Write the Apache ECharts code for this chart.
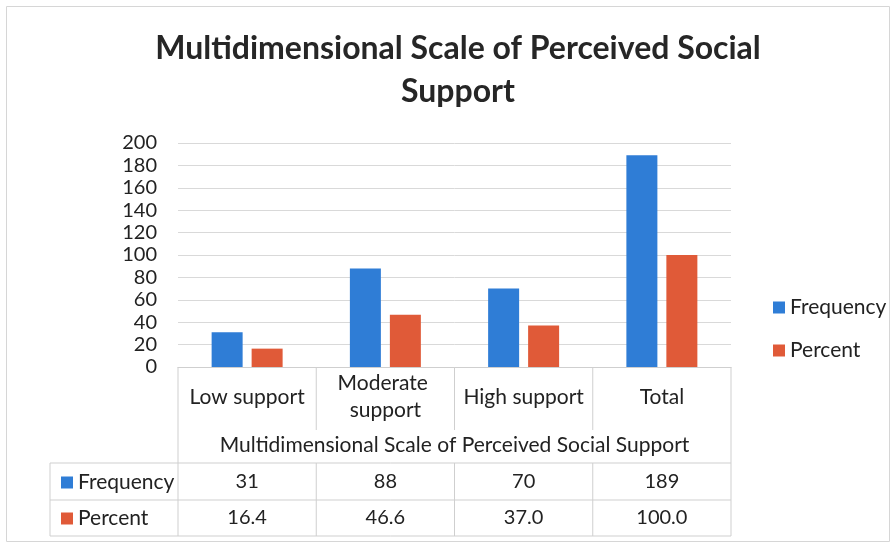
<!DOCTYPE html>
<html>
<head>
<meta charset="utf-8">
<script src="https://cdn.jsdelivr.net/npm/echarts@6/dist/echarts.min.js"></script>
<style>
  html, body { margin: 0; padding: 0; background: #fff; }
  #main { width: 896px; height: 546px; }
</style>
</head>
<body>
<div id="main"></div>
<script>
var categories = ['Low support', 'Moderate support', 'High support', 'Total'];
var frequency = [31, 88, 70, 189];
var percent = [16.4, 46.6, 37.0, 100.0];
var percentText = ['16.4', '46.6', '37.0', '100.0'];
var yTicks = { min: 0, max: 200, interval: 20 };

var BLUE = '#2f7dd6';
var ORANGE = '#e05a38';
var FONT = 'Lato, "Noto Sans", sans-serif';
var TXT = '#222';
var LINE = '#cfcfcf';

// plot box
var GL = 178, GR = 731, GT = 143, GB = 367;
var colW = (GR - GL) / categories.length;

// table lines
var lines = [];
function hline(x1, x2, y) { lines.push({ type: 'line', shape: { x1: x1, y1: y, x2: x2, y2: y }, style: { stroke: LINE, lineWidth: 1 }, silent: true }); }
function vline(x, y1, y2) { lines.push({ type: 'line', shape: { x1: x, y1: y1, x2: x, y2: y2 }, style: { stroke: LINE, lineWidth: 1 }, silent: true }); }
vline(GL, GB, 536);
vline(GR, GB, 536);
for (var i = 1; i < categories.length; i++) {
    vline(GL + i * colW, GB, 430);
    vline(GL + i * colW, 463, 536);
}
hline(50, GR, 463);
hline(50, GR, 500);
hline(50, GR, 536);
vline(50, 463, 536);
lines.push({ type: 'rect', shape: { x: 6.5, y: 6.5, width: 883, height: 535 }, style: { fill: null, stroke: '#d6d6d6', lineWidth: 1 }, silent: true });

var baseLabel = { fontFamily: FONT, fontSize: 21, color: TXT };

var option = {
    backgroundColor: '#fff',
    animation: false,
    title: {
        text: 'Multidimensional Scale of Perceived Social\nSupport',
        left: 453,
        top: 22,
        textAlign: 'center',
        textStyle: { fontFamily: FONT, fontSize: 32, fontWeight: 'bold', color: '#262626', lineHeight: 43 }
    },
    legend: [
        {
            orient: 'vertical',
            left: 768,
            top: 292,
            itemWidth: 12,
            itemHeight: 12,
            itemGap: 22,
            icon: 'rect',
            selectedMode: false,
            textStyle: baseLabel,
            data: ['Frequency', 'Percent']
        },
        {
            orient: 'vertical',
            left: 56,
            top: 467,
            itemWidth: 12,
            itemHeight: 12,
            itemGap: 15,
            icon: 'rect',
            selectedMode: false,
            textStyle: baseLabel,
            data: ['Frequency', 'Percent']
        }
    ],
    grid: { left: GL, right: 896 - GR, top: GT, bottom: 546 - GB, containLabel: false },
    xAxis: [
        {
            type: 'category',
            data: categories,
            name: 'Multidimensional Scale of Perceived Social Support',
            nameLocation: 'middle',
            nameGap: 78,
            nameTextStyle: { fontFamily: FONT, fontSize: 21, color: TXT, verticalAlign: 'middle' },
            axisLine: { show: true, lineStyle: { color: LINE } },
            axisTick: { show: false },
            axisLabel: {
                interval: 0,
                margin: 30,
                verticalAlign: 'middle',
                width: 128,
                overflow: 'break',
                lineHeight: 27,
                fontFamily: FONT, fontSize: 21, color: TXT
            }
        },
        {
            type: 'category',
            data: categories,
            position: 'bottom',
            axisLine: { show: false },
            axisTick: { show: false },
            axisLabel: {
                interval: 0,
                margin: 115,
                verticalAlign: 'middle',
                fontFamily: FONT, fontSize: 20, color: TXT,
                formatter: function (v, idx) { return String(frequency[idx]); }
            }
        },
        {
            type: 'category',
            data: categories,
            position: 'bottom',
            axisLine: { show: false },
            axisTick: { show: false },
            axisLabel: {
                interval: 0,
                margin: 151,
                verticalAlign: 'middle',
                fontFamily: FONT, fontSize: 20, color: TXT,
                formatter: function (v, idx) { return percentText[idx]; }
            }
        }
    ],
    yAxis: {
        type: 'value',
        min: yTicks.min,
        max: yTicks.max,
        interval: yTicks.interval,
        axisLine: { show: false },
        axisTick: { show: false },
        axisLabel: { margin: 21, fontFamily: FONT, fontSize: 20, color: TXT },
        splitLine: { lineStyle: { color: '#d9d9d9' } }
    },
    series: [
        {
            name: 'Frequency',
            type: 'bar',
            xAxisIndex: 0,
            data: frequency,
            barWidth: 31,
            barGap: '29%',
            itemStyle: { color: BLUE }
        },
        {
            name: 'Percent',
            type: 'bar',
            xAxisIndex: 0,
            data: percent,
            barWidth: 31,
            itemStyle: { color: ORANGE }
        }
    ],
    graphic: lines
};

var chart = echarts.init(document.getElementById('main'));
chart.setOption(option);
</script>
</body>
</html>
